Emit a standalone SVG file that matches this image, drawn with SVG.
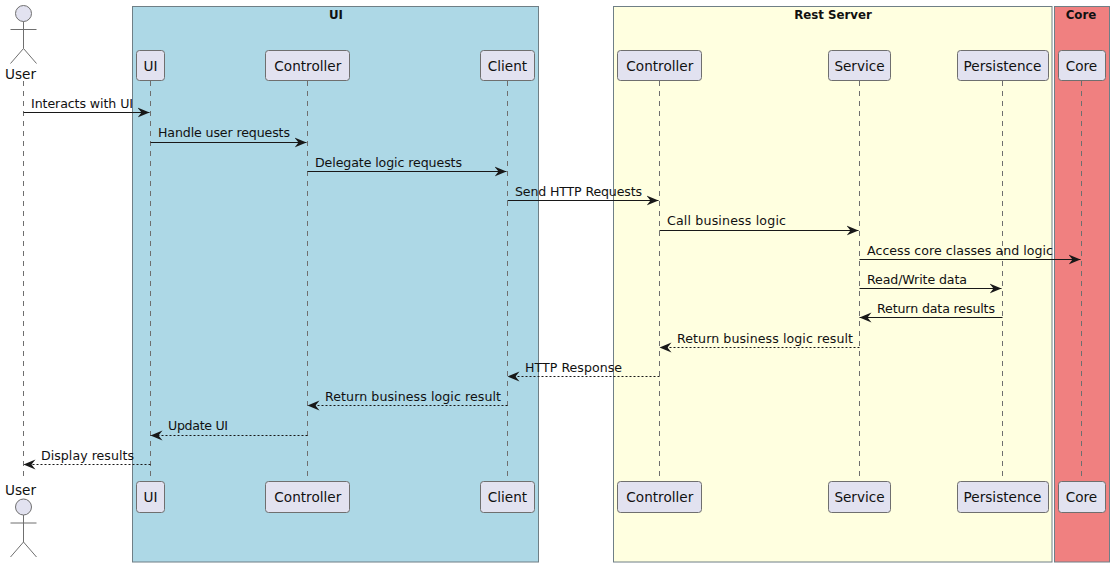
<svg xmlns="http://www.w3.org/2000/svg" width="1114" height="567" viewBox="0 0 1114 567">
<style>
text{font-family:"DejaVu Sans",Verdana,sans-serif;fill:#111}
.p rect{fill:#E2E2F0;stroke:#6f6f6f;stroke-width:1}
.p text{font-size:13.6px;text-anchor:middle}
.a{fill:#E2E2F0;stroke:#6f6f6f;stroke-width:1}
.box{stroke:#6f7f86;stroke-width:1}
.bt{font-size:11.8px;font-weight:bold;text-anchor:middle}
.life{stroke:#6f6f6f;stroke-width:1;stroke-dasharray:5 5;fill:none}
.m{stroke:#181818;stroke-width:1;fill:none}
.d{stroke-dasharray:2 2}
.h{fill:#181818;stroke:none}
.l{font-size:12.6px}
</style>
<defs>
<g id="stick"><circle cx="0" cy="0" r="8" class="a"/><path d="M0 8V35M-13 16H13M0 35L-13 50M0 35L13 50" class="a" style="fill:none"/></g>
<marker id="e" markerUnits="userSpaceOnUse" markerWidth="14" markerHeight="12" refX="12" refY="5" orient="auto" viewBox="0 0 14 10"><path d="M0 0L12 5L0 10L4 5Z" class="h"/></marker>
</defs>
<rect id="box-ui" class="box" x="132.5" y="6.5" width="406" height="555.5" fill="#ADD8E6"/>
<rect id="box-rest" class="box" x="613.5" y="6.5" width="438.5" height="555.5" fill="#FFFFE0"/>
<rect id="box-core" class="box" x="1054.5" y="6.5" width="55" height="555.5" fill="#F08080"/>
<text class="bt" x="336" y="19">UI</text>
<text class="bt" x="833" y="19">Rest Server</text>
<text class="bt" x="1081" y="19">Core</text>
<g id="lifelines">
<path class="life" d="M23.5 81V481"/><path class="life" d="M150.5 81V477"/><path class="life" d="M307.5 81V477"/><path class="life" d="M507.5 81V477"/><path class="life" d="M659.5 81V477"/><path class="life" d="M859.5 81V477"/><path class="life" d="M1002.5 81V477"/><path class="life" d="M1081.5 81V477"/>
</g>
<g id="actor-user-top" class="p"><use href="#stick" x="23.5" y="13.5"/><text x="20.5" y="79">User</text></g>
<g id="actor-user-bottom" class="p"><text x="20.5" y="495">User</text><use href="#stick" x="23.5" y="507"/></g>
<g id="p-ui-top" class="p"><rect x="136.5" y="50.5" width="28" height="30" rx="3"/><text x="150.5" y="71">UI</text></g>
<g id="p-ctl-top" class="p"><rect x="265.5" y="50.5" width="84" height="30" rx="3"/><text x="307.8" y="71">Controller</text></g>
<g id="p-client-top" class="p"><rect x="480.5" y="50.5" width="54" height="30" rx="3"/><text x="507.5" y="71">Client</text></g>
<g id="p-rctl-top" class="p"><rect x="617.5" y="50.5" width="84" height="30" rx="3"/><text x="659.8" y="71">Controller</text></g>
<g id="p-svc-top" class="p"><rect x="828.5" y="50.5" width="62" height="30" rx="3"/><text x="859.5" y="71">Service</text></g>
<g id="p-per-top" class="p"><rect x="957.5" y="50.5" width="91" height="30" rx="3"/><text x="1002.5" y="71">Persistence</text></g>
<g id="p-core-top" class="p"><rect x="1058.5" y="50.5" width="47" height="30" rx="3"/><text x="1081.5" y="71">Core</text></g>
<g id="p-ui-bot" class="p"><rect x="136.5" y="481.5" width="28" height="31" rx="3"/><text x="150.5" y="502">UI</text></g>
<g id="p-ctl-bot" class="p"><rect x="265.5" y="481.5" width="84" height="31" rx="3"/><text x="307.8" y="502">Controller</text></g>
<g id="p-client-bot" class="p"><rect x="480.5" y="481.5" width="54" height="31" rx="3"/><text x="507.5" y="502">Client</text></g>
<g id="p-rctl-bot" class="p"><rect x="617.5" y="481.5" width="84" height="31" rx="3"/><text x="659.8" y="502">Controller</text></g>
<g id="p-svc-bot" class="p"><rect x="828.5" y="481.5" width="62" height="31" rx="3"/><text x="859.5" y="502">Service</text></g>
<g id="p-per-bot" class="p"><rect x="957.5" y="481.5" width="91" height="31" rx="3"/><text x="1002.5" y="502">Persistence</text></g>
<g id="p-core-bot" class="p"><rect x="1058.5" y="481.5" width="47" height="31" rx="3"/><text x="1081.5" y="502">Core</text></g>
<g id="connectors">
<path class="m" marker-end="url(#e)" d="M23.5 112.5H149.5"/>
<path class="m" marker-end="url(#e)" d="M150.5 142.5H306.5"/>
<path class="m" marker-end="url(#e)" d="M307.5 171.5H506.5"/>
<path class="m" marker-end="url(#e)" d="M507.5 200.5H658.5"/>
<path class="m" marker-end="url(#e)" d="M659.5 230.5H858.5"/>
<path class="m" marker-end="url(#e)" d="M859.5 259.5H1080.5"/>
<path class="m" marker-end="url(#e)" d="M859.5 288.5H1001.5"/>
<path class="m" marker-end="url(#e)" d="M1002.5 317.5H859.5"/>
<path class="m d" marker-end="url(#e)" d="M859.5 347.5H659.5"/>
<path class="m d" marker-end="url(#e)" d="M659.5 376.5H507.5"/>
<path class="m d" marker-end="url(#e)" d="M507.5 405.5H307.5"/>
<path class="m d" marker-end="url(#e)" d="M307.5 435.5H150.5"/>
<path class="m d" marker-end="url(#e)" d="M150.5 464.5H23.5"/>
</g>
<g id="labels" class="l">
<text x="31" y="108" textLength="102">Interacts with UI</text>
<text x="158" y="137" textLength="132">Handle user requests</text>
<text x="315" y="167" textLength="147">Delegate logic requests</text>
<text x="515" y="196" textLength="127">Send HTTP Requests</text>
<text x="667" y="225" textLength="119">Call business logic</text>
<text x="867" y="255" textLength="186">Access core classes and logic</text>
<text x="867" y="284" textLength="100">Read/Write data</text>
<text x="877" y="313" textLength="118">Return data results</text>
<text x="677" y="343" textLength="176">Return business logic result</text>
<text x="525" y="372" textLength="97">HTTP Response</text>
<text x="325" y="401" textLength="176">Return business logic result</text>
<text x="168" y="430" textLength="60">Update UI</text>
<text x="41" y="460" textLength="93">Display results</text>
</g>
</svg>
